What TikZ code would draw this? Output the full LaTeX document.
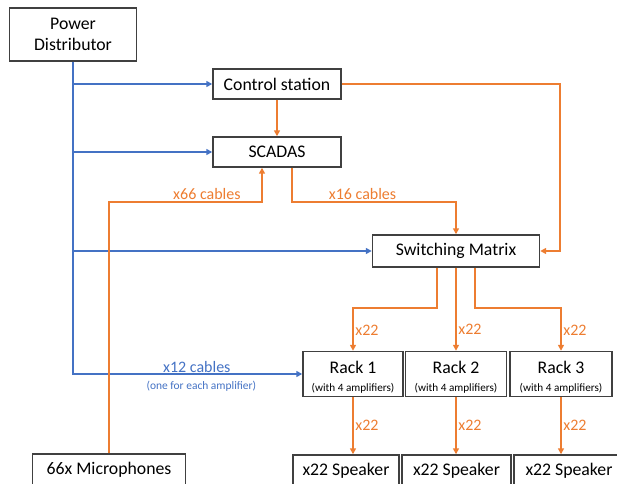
\documentclass[tikz,border=0pt]{standalone}
\usepackage{fontspec}
\setmainfont{Carlito}
\usetikzlibrary{arrows.meta,calc}
\definecolor{pwr}{HTML}{4472C4}
\definecolor{sig}{HTML}{ED7D31}
\definecolor{edge}{HTML}{404040}
\begin{document}
\begin{tikzpicture}[x=0.75pt,y=-0.75pt,
  box/.style={draw=edge, line width=1.1pt, fill=white, inner sep=0pt, align=center,
    font=\fontsize{13.3}{16}\selectfont},
  wd/.style={minimum width=#1*0.75pt},
  ht/.style={minimum height=#1*0.75pt},
  tip/.style={-{Triangle[length=4.5pt,width=4.5pt]}},
  powerline/.style={draw=pwr, line width=1.5pt, tip},
  sigline/.style={draw=sig, line width=1.5pt, tip},
  siglbl/.style={text=sig, font=\fontsize{12}{14}\selectfont, inner sep=1pt},
  pwrlbl/.style={text=pwr, font=\fontsize{12}{14}\selectfont, inner sep=1pt}]
\useasboundingbox (0,0) rectangle (617,484);
\clip (0,0) rectangle (617,484);

% units and devices
\node[box, wd=127, ht=53] (pd) at (73,34.5) {Power\\Distributor};
\node[box, wd=128, ht=30] (cs) at (277,84) {Control station};
\node[box, wd=128, ht=30] (sc) at (277,152) {SCADAS};
\node[box, wd=167, ht=32] (sm) at (456,251) {Switching Matrix};
\node[box, wd=100, ht=45] (r1) at (353,374) {\rule{0pt}{14pt}Rack 1\\[-2pt]{\fontsize{8.4}{10}\selectfont(with 4 amplifiers)}};
\node[box, wd=101, ht=45] (r2) at (456,374) {\rule{0pt}{14pt}Rack 2\\[-2pt]{\fontsize{8.4}{10}\selectfont(with 4 amplifiers)}};
\node[box, wd=102, ht=45] (r3) at (561,374) {\rule{0pt}{14pt}Rack 3\\[-2pt]{\fontsize{8.4}{10}\selectfont(with 4 amplifiers)}};
\node[box, wd=106, ht=32] (sp1) at (346,471) {x22 Speaker};
\node[box, wd=109, ht=32] (sp2) at (456.5,471) {x22 Speaker};
\node[box, wd=110, ht=32] (sp3) at (569,471) {x22 Speaker};
\node[box, wd=153, ht=32] (mic) at (109,470) {66x Microphones};

% power trunk with its branches
\draw[powerline] (pd.south) |- (r1.west)
  node[pos=0.77, above=-1pt, pwrlbl] {x12 cables}
  node[pos=0.78, below=1pt, text=pwr, font=\fontsize{8.6}{10}\selectfont] {(one for each amplifier)};
\draw[powerline] (pd.south |- cs.west) -- (cs.west);
\draw[powerline] (pd.south |- sc.west) -- (sc.west);
\draw[powerline] (pd.south |- sm.west) -- (sm.west);

% signal paths
\draw[sigline] (cs.south) -- (sc.north);
\coordinate (csr) at (560,84);
\draw[sigline] (cs.east) -- (csr) |- (sm.east);
\coordinate (k16) at (292,202);
\draw[sigline] ($(sc.south)+(15,0)$) -- (k16) -| (sm.north)
  node[pos=0.215, above, siglbl] {x16 cables};
\coordinate (k66) at (109,202);
\draw[sigline] (mic.north) -- (k66) -| ($(sc.south)+(-15,0)$)
  node[pos=0.32, above, siglbl] {x66 cables};

% switching matrix to racks
\draw[sigline] ($(sm.south)+(-19,0)$) -- ++(0,40) -| (r1.north)
  node[pos=0.76, right, siglbl] {x22};
\draw[sigline] (sm.south) -- (r2.north)
  node[pos=0.74, right, siglbl] {x22};
\draw[sigline] ($(sm.south)+(19,0)$) -- ++(0,40) -| (r3.north)
  node[pos=0.76, right, siglbl] {x22};

% racks to speakers
\draw[sigline] (r1.south) -- (r1.south |- sp1.north) node[midway, right, siglbl] {x22};
\draw[sigline] (r2.south) -- (r2.south |- sp2.north) node[midway, right, siglbl] {x22};
\draw[sigline] (r3.south) -- (r3.south |- sp3.north) node[midway, right, siglbl] {x22};
\end{tikzpicture}
\end{document}
